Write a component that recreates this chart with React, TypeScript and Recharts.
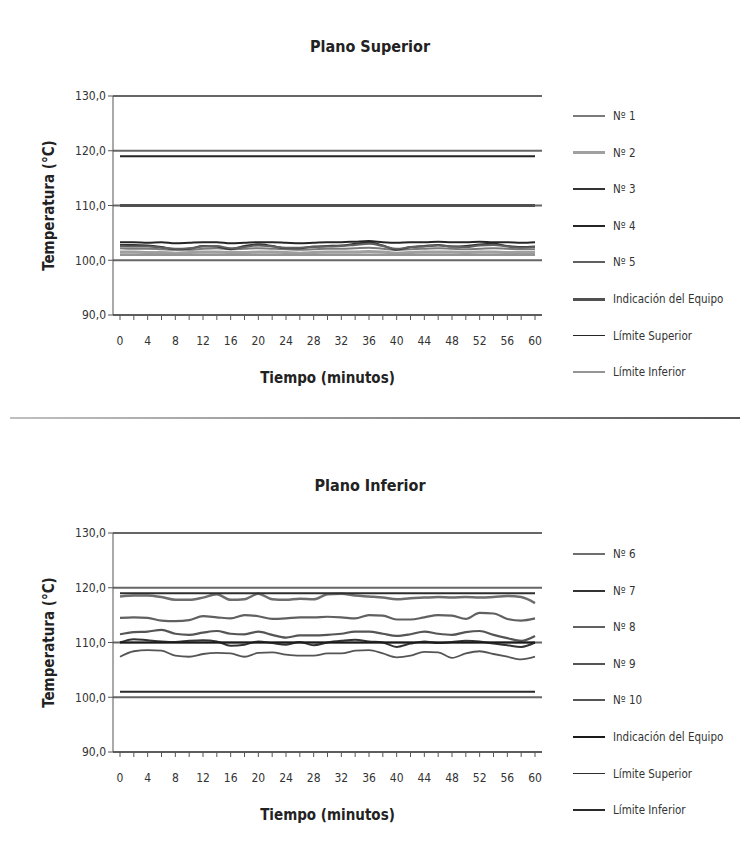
import React from 'react';
import { LineChart, Line, XAxis, YAxis, CartesianGrid } from 'recharts';

// tiempo en minutos (una lectura cada 2 min)
const minutos = [0, 2, 4, 6, 8, 10, 12, 14, 16, 18, 20, 22, 24, 26, 28, 30, 32, 34, 36, 38, 40, 42, 44, 46, 48, 50, 52, 54, 56, 58, 60];
const yTicks = [90, 100, 110, 120, 130];

// Plano Superior
const nro1 = [102.2, 102.1, 102.1, 102.0, 101.9, 101.9, 102.1, 102.2, 102.0, 102.1, 102.2, 102.1, 102.0, 101.9, 102.0, 102.1, 102.1, 102.2, 102.3, 102.1, 101.9, 102.0, 102.1, 102.2, 102.1, 102.0, 102.1, 102.2, 102.1, 102.0, 102.0];
const nro2 = [101.5, 101.5, 101.4, 101.4, 101.3, 101.4, 101.5, 101.5, 101.4, 101.4, 101.5, 101.5, 101.4, 101.3, 101.4, 101.5, 101.5, 101.5, 101.6, 101.5, 101.3, 101.4, 101.5, 101.5, 101.5, 101.4, 101.5, 101.5, 101.4, 101.4, 101.4];
const nro3 = [102.8, 102.8, 102.7, 102.4, 102.0, 102.1, 102.6, 102.5, 102.0, 102.6, 102.9, 102.6, 102.2, 102.2, 102.5, 102.6, 102.7, 103.0, 103.3, 102.7, 101.9, 102.4, 102.6, 102.8, 102.5, 102.6, 102.9, 103.0, 102.6, 102.4, 102.5];
const nro4 = [103.3, 103.3, 103.2, 103.3, 103.1, 103.2, 103.3, 103.3, 103.1, 103.2, 103.3, 103.3, 103.2, 103.1, 103.2, 103.3, 103.3, 103.4, 103.5, 103.3, 103.2, 103.3, 103.3, 103.4, 103.3, 103.3, 103.4, 103.3, 103.3, 103.2, 103.3];
const nro5 = [102.6, 102.5, 102.5, 102.3, 102.1, 102.2, 102.5, 102.6, 102.2, 102.4, 102.7, 102.5, 102.3, 102.3, 102.4, 102.5, 102.6, 102.8, 103.0, 102.6, 102.1, 102.4, 102.5, 102.7, 102.5, 102.4, 102.7, 102.8, 102.5, 102.3, 102.4];

// Plano Inferior
const nro6 = [118.4, 118.6, 118.6, 118.3, 117.8, 117.8, 118.2, 118.8, 117.8, 117.9, 118.9, 117.9, 117.8, 118.0, 117.9, 118.8, 118.9, 118.6, 118.4, 118.2, 117.9, 118.1, 118.2, 118.3, 118.2, 118.3, 118.2, 118.3, 118.5, 118.3, 117.2];
const nro7 = [110.0, 110.6, 110.4, 110.2, 110.1, 110.3, 110.4, 110.2, 109.4, 109.6, 110.2, 109.9, 109.6, 110.1, 109.5, 110.0, 110.3, 110.5, 110.2, 110.0, 109.2, 109.8, 110.2, 109.9, 110.1, 110.3, 110.2, 109.8, 109.5, 109.2, 110.0];
const nro8 = [114.5, 114.6, 114.5, 114.0, 113.9, 114.1, 114.8, 114.6, 114.4, 115.0, 114.8, 114.3, 114.4, 114.6, 114.6, 114.7, 114.6, 114.4, 115.0, 114.9, 114.2, 114.2, 114.6, 115.0, 114.9, 114.3, 115.4, 115.3, 114.3, 114.0, 114.4];
const nro9 = [111.5, 111.9, 112.0, 112.3, 111.6, 111.4, 111.8, 112.1, 111.6, 111.5, 112.0, 111.4, 110.9, 111.3, 111.3, 111.4, 111.6, 112.0, 112.0, 111.6, 111.2, 111.5, 112.0, 111.6, 111.4, 111.9, 112.1, 111.4, 110.8, 110.3, 111.2];
const nro10 = [107.4, 108.4, 108.6, 108.5, 107.6, 107.4, 107.9, 108.1, 108.0, 107.4, 108.1, 108.2, 107.8, 107.6, 107.6, 108.0, 108.0, 108.5, 108.6, 108.0, 107.3, 107.6, 108.3, 108.2, 107.2, 108.0, 108.4, 107.9, 107.4, 106.9, 107.4];

// referencias comunes
const indicacion = [110, 110, 110, 110, 110, 110, 110, 110, 110, 110, 110, 110, 110, 110, 110, 110, 110, 110, 110, 110, 110, 110, 110, 110, 110, 110, 110, 110, 110, 110, 110];
const limiteSup = [119, 119, 119, 119, 119, 119, 119, 119, 119, 119, 119, 119, 119, 119, 119, 119, 119, 119, 119, 119, 119, 119, 119, 119, 119, 119, 119, 119, 119, 119, 119];
const limiteInf = [101, 101, 101, 101, 101, 101, 101, 101, 101, 101, 101, 101, 101, 101, 101, 101, 101, 101, 101, 101, 101, 101, 101, 101, 101, 101, 101, 101, 101, 101, 101];

type Serie = { key: string; name: string; values: number[]; color: string; width: number };

const FONT = '"Liberation Sans Narrow", "DejaVu Sans Condensed", "Open Sans", sans-serif';

const seriesSuperior: Serie[] = [
    { key: 'n1', name: 'Nº 1', values: nro1, color: '#7a7a7a', width: 2 },
    { key: 'n2', name: 'Nº 2', values: nro2, color: '#a0a0a0', width: 3 },
    { key: 'n3', name: 'Nº 3', values: nro3, color: '#333', width: 2 },
    { key: 'n4', name: 'Nº 4', values: nro4, color: '#252525', width: 2 },
    { key: 'n5', name: 'Nº 5', values: nro5, color: '#606060', width: 2 },
    { key: 'ind', name: 'Indicación del Equipo', values: indicacion, color: '#505050', width: 3 },
    { key: 'ls', name: 'Límite Superior', values: limiteSup, color: '#252525', width: 1.8 },
    { key: 'li', name: 'Límite Inferior', values: limiteInf, color: '#959595', width: 2.5 },
];

const seriesInferior: Serie[] = [
    { key: 'n6', name: 'Nº 6', values: nro6, color: '#6e6e6e', width: 2.5 },
    { key: 'n7', name: 'Nº 7', values: nro7, color: '#333', width: 2 },
    { key: 'n8', name: 'Nº 8', values: nro8, color: '#606060', width: 2.2 },
    { key: 'n9', name: 'Nº 9', values: nro9, color: '#555', width: 2.2 },
    { key: 'n10', name: 'Nº 10', values: nro10, color: '#555', width: 1.8 },
    { key: 'ind', name: 'Indicación del Equipo', values: indicacion, color: '#1a1a1a', width: 2 },
    { key: 'ls', name: 'Límite Superior', values: limiteSup, color: '#2e2e2e', width: 1.8 },
    { key: 'li', name: 'Límite Inferior', values: limiteInf, color: '#2a2a2a', width: 2 },
];

const buildRows = (series: Serie[]) =>
    minutos.map((m, i) => {
        const row: Record<string, number> = { minuto: m };
        series.forEach(s => { row[s.key] = s.values[i]; });
        return row;
    });

interface PanelProps {
    title: string;
    series: Serie[];
    top: number;
    height: number;
    marginTop: number;
    marginBottom: number;
    titleY: number;
    legendY: number;
}

const Panel: React.FC<PanelProps> = ({ title, series, top, height, marginTop, marginBottom, titleY, legendY }) => {
    const rows = buildRows(series);
    return (
        <>
            <div style={{ position: 'absolute', left: 0, top: titleY - 11, width: 740, textAlign: 'center', fontSize: 16, fontWeight: 'bold', color: '#222' }}>
                {title}
            </div>
            <div style={{ position: 'absolute', left: 0, top }}>
                <LineChart width={740} height={height} data={rows} margin={{ top: marginTop, right: 198, bottom: marginBottom, left: 0 }}>
                    <CartesianGrid vertical={false} stroke="#666" strokeWidth={2} />
                    <XAxis
                        dataKey="minuto"
                        interval={0}
                        height={70}
                        padding={{ left: 7, right: 7 }}
                        tickFormatter={(v: number) => (v % 4 === 0 ? String(v) : '')}
                        tick={{ fontSize: 12, fill: '#333', fontFamily: FONT }}
                        tickSize={5}
                        tickMargin={16}
                        stroke="#555"
                        label={{ value: 'Tiempo (minutos)', position: 'insideBottom', offset: 2, fontSize: 15, fontWeight: 'bold', fill: '#222', fontFamily: FONT }}
                    />
                    <YAxis
                        domain={[90, 130]}
                        ticks={yTicks}
                        width={113}
                        tickFormatter={(v: number) => v.toFixed(1).replace('.', ',')}
                        tick={{ fontSize: 12, fill: '#333', fontFamily: FONT }}
                        tickSize={5}
                        stroke="#555"
                        label={{ value: 'Temperatura (°C)', angle: -90, position: 'center', dx: -8, fontSize: 15, fontWeight: 'bold', fill: '#222', fontFamily: FONT }}
                    />
                    {series.map(s => (
                        <Line
                            key={s.key}
                            dataKey={s.key}
                            name={s.name}
                            type="monotone"
                            stroke={s.color}
                            strokeWidth={s.width}
                            dot={false}
                            isAnimationActive={false}
                        />
                    ))}
                </LineChart>
            </div>
            {series.map((s, i) => (
                <div key={s.key} style={{ position: 'absolute', left: 573, top: legendY + i * 36.6 - 8, height: 16, display: 'flex', alignItems: 'center' }}>
                    <div style={{ width: 32, height: s.width, background: s.color }} />
                    <span style={{ marginLeft: 8, fontSize: 11.5, color: '#333' }}>{s.name}</span>
                </div>
            ))}
        </>
    );
};

export default function App() {
    return (
        <div style={{ position: 'absolute', left: 0, top: 0, width: 740, height: 850, background: '#fff', fontFamily: FONT }}>
            <Panel title="Plano Superior" series={seriesSuperior} top={0} height={400} marginTop={96} marginBottom={15} titleY={48} legendY={116} />
            <div style={{ position: 'absolute', left: 10, top: 417, width: 730, height: 2, background: 'linear-gradient(to right, #c0c0c0, #909090, #555)' }} />
            <Panel title="Plano Inferior" series={seriesInferior} top={430} height={420} marginTop={103} marginBottom={28} titleY={487} legendY={554} />
        </div>
    );
}
